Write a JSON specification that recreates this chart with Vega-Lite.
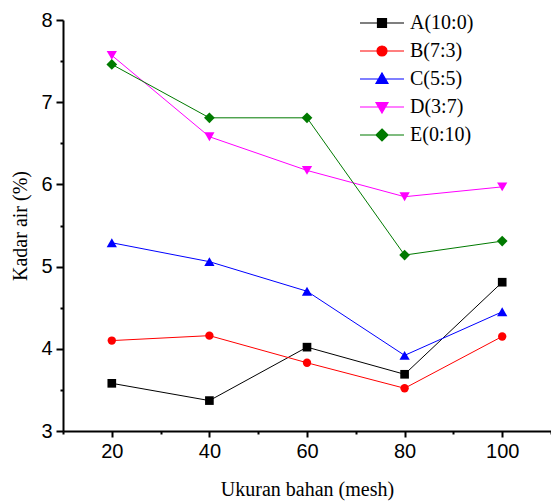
{
  "$schema": "https://vega.github.io/schema/vega-lite/v6.json",
  "width": 488,
  "height": 411,
  "autosize": {"type": "none"},
  "padding": {"left": 63, "top": 20, "right": 0, "bottom": 73},
  "background": "white",
  "config": {"view": {"stroke": null}},
  "data": {"values": [
    {"mesh": 20, "kadar": 3.58, "series": "A(10:0)"},
    {"mesh": 40, "kadar": 3.37, "series": "A(10:0)"},
    {"mesh": 60, "kadar": 4.02, "series": "A(10:0)"},
    {"mesh": 80, "kadar": 3.69, "series": "A(10:0)"},
    {"mesh": 100, "kadar": 4.81, "series": "A(10:0)"},
    {"mesh": 20, "kadar": 4.10, "series": "B(7:3)"},
    {"mesh": 40, "kadar": 4.16, "series": "B(7:3)"},
    {"mesh": 60, "kadar": 3.83, "series": "B(7:3)"},
    {"mesh": 80, "kadar": 3.52, "series": "B(7:3)"},
    {"mesh": 100, "kadar": 4.15, "series": "B(7:3)"},
    {"mesh": 20, "kadar": 5.29, "series": "C(5:5)"},
    {"mesh": 40, "kadar": 5.06, "series": "C(5:5)"},
    {"mesh": 60, "kadar": 4.70, "series": "C(5:5)"},
    {"mesh": 80, "kadar": 3.92, "series": "C(5:5)"},
    {"mesh": 100, "kadar": 4.45, "series": "C(5:5)"},
    {"mesh": 20, "kadar": 7.57, "series": "D(3:7)"},
    {"mesh": 40, "kadar": 6.58, "series": "D(3:7)"},
    {"mesh": 60, "kadar": 6.17, "series": "D(3:7)"},
    {"mesh": 80, "kadar": 5.85, "series": "D(3:7)"},
    {"mesh": 100, "kadar": 5.97, "series": "D(3:7)"},
    {"mesh": 20, "kadar": 7.46, "series": "E(0:10)"},
    {"mesh": 40, "kadar": 6.81, "series": "E(0:10)"},
    {"mesh": 60, "kadar": 6.81, "series": "E(0:10)"},
    {"mesh": 80, "kadar": 5.14, "series": "E(0:10)"},
    {"mesh": 100, "kadar": 5.31, "series": "E(0:10)"}
  ]},
  "encoding": {
    "x": {
      "field": "mesh", "type": "quantitative",
      "scale": {"domain": [10, 110], "nice": false, "zero": false},
      "axis": {
        "title": "Ukuran bahan (mesh)",
        "titleFont": "Liberation Serif", "titleFontSize": 20, "titleFontWeight": "normal", "titleColor": "black",
        "titlePadding": 18,
        "values": [10, 20, 30, 40, 50, 60, 70, 80, 90, 100, 110],
        "labelExpr": "datum.value % 20 == 0 ? datum.label : ''",
        "labelOverlap": false, "labelFlush": false,
        "labelFont": "Liberation Sans", "labelFontSize": 20, "labelColor": "black", "labelPadding": 4,
        "grid": false,
        "domainColor": "black", "domainWidth": 2,
        "tickColor": "black", "tickWidth": 2,
        "tickSize": {"condition": {"test": "datum.value % 20 != 0", "value": 3}, "value": 6}
      }
    },
    "y": {
      "field": "kadar", "type": "quantitative",
      "scale": {"domain": [3, 8], "nice": false, "zero": false},
      "axis": {
        "title": "Kadar air (%)",
        "titleFont": "Liberation Serif", "titleFontSize": 20, "titleFontWeight": "normal", "titleColor": "black",
        "titlePadding": 10,
        "format": "~g",
        "values": [3, 3.5, 4, 4.5, 5, 5.5, 6, 6.5, 7, 7.5, 8],
        "labelExpr": "datum.value % 1 == 0 ? datum.label : ''",
        "labelOverlap": false, "labelFlush": false,
        "labelFont": "Liberation Sans", "labelFontSize": 20, "labelColor": "black", "labelPadding": 4,
        "grid": false,
        "domainColor": "black", "domainWidth": 2,
        "tickColor": "black", "tickWidth": 2,
        "tickSize": {"condition": {"test": "datum.value % 1 != 0", "value": 3}, "value": 7}
      }
    }
  },
  "layer": [
    {
      "mark": {"type": "line", "strokeWidth": 1},
      "encoding": {
        "color": {
          "field": "series", "type": "nominal",
          "scale": {
            "domain": ["A(10:0)", "B(7:3)", "C(5:5)", "D(3:7)", "E(0:10)"],
            "range": ["#000000", "#ff0000", "#0000ff", "#ff00ff", "#007a00"]
          },
          "legend": {
            "title": null,
            "orient": "none", "legendX": 308, "legendY": -8,
            "labelFont": "Liberation Serif", "labelFontSize": 20, "labelColor": "black",
            "symbolSize": 400, "rowPadding": 7, "labelOffset": 17,
            "symbolStrokeWidth": 1.2, "symbolOpacity": 1,
            "symbolType": {"expr": "datum.value === 'A(10:0)' ? 'M-2.2,0H2.2M-0.45,-0.45H0.45V0.45H-0.45Z' : datum.value === 'B(7:3)' ? 'M-2.2,0H2.2M0.5,0A0.5,0.5 0 1,1 -0.5,0A0.5,0.5 0 1,1 0.5,0Z' : datum.value === 'C(5:5)' ? 'M-2.2,0H2.2M0,-0.6L0.6,0.45H-0.6Z' : datum.value === 'D(3:7)' ? 'M-2.2,0H2.2M0,0.6L0.6,-0.45H-0.6Z' : 'M-2.2,0H2.2M0,-0.6L0.6,0L0,0.6L-0.6,0Z'"},
            "symbolFillColor": {"expr": "scale('color', datum.value)"}
          }
        }
      }
    },
    {
      "transform": [{"filter": "datum.series === 'A(10:0)'"}],
      "mark": {"type": "point", "shape": "square", "size": 75, "filled": true, "opacity": 1},
      "encoding": {"color": {"field": "series", "type": "nominal", "legend": null}}
    },
    {
      "transform": [{"filter": "datum.series === 'B(7:3)'"}],
      "mark": {"type": "point", "shape": "circle", "size": 70, "filled": true, "opacity": 1},
      "encoding": {"color": {"field": "series", "type": "nominal", "legend": null}}
    },
    {
      "transform": [{"filter": "datum.series === 'C(5:5)'"}],
      "mark": {"type": "point", "shape": "triangle-up", "size": 105, "filled": true, "opacity": 1},
      "encoding": {"color": {"field": "series", "type": "nominal", "legend": null}}
    },
    {
      "transform": [{"filter": "datum.series === 'D(3:7)'"}],
      "mark": {"type": "point", "shape": "triangle-down", "size": 105, "filled": true, "opacity": 1},
      "encoding": {"color": {"field": "series", "type": "nominal", "legend": null}}
    },
    {
      "transform": [{"filter": "datum.series === 'E(0:10)'"}],
      "mark": {"type": "point", "shape": "diamond", "size": 115, "filled": true, "opacity": 1},
      "encoding": {"color": {"field": "series", "type": "nominal", "legend": null}}
    }
  ]
}
